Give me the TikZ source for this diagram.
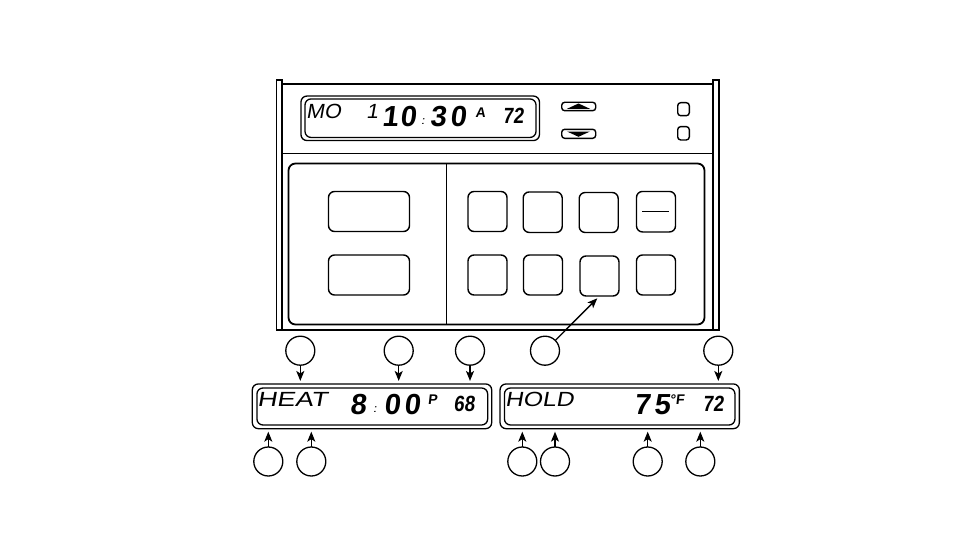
\documentclass[tikz,border=0pt]{standalone}
\usepackage{fontspec}
\usetikzlibrary{arrows.meta}
\newfontfamily\lcdthin[FakeSlant=0.18,FakeStretch=1.32]{Liberation Sans}
\newfontfamily\lcdhold[FakeSlant=0.18,FakeStretch=1.2]{Liberation Sans}
\newfontfamily\lcdmo[FakeSlant=0.18,FakeStretch=1.05]{Liberation Sans}
\newfontfamily\lcdbold[FakeSlant=0.12]{Liberation Sans Bold}
\newfontfamily\lcdnarrow[FakeSlant=0.12,FakeStretch=0.85]{Liberation Sans Bold}
\newcommand{\dg}[2]{\makebox[#1pt]{#2}}
\newcommand{\cln}{{\lcdthin\fontsize{11}{11}\selectfont\raisebox{2pt}{:}}}
\tikzset{
  box/.style={draw,rounded corners=6pt,inner sep=0pt,outer sep=0pt,line width=1.4pt},
  disp/.style={draw,rounded corners=6pt,inner sep=0pt,outer sep=0pt,line width=1.3pt},
  callout/.style={draw,circle,inner sep=0pt,outer sep=0pt,minimum size=29pt,line width=1.3pt},
  lead/.style={line width=1.3pt,-{Stealth[length=10pt,width=8pt,inset=2.5pt]}},
  thintext/.style={inner sep=0pt,anchor=west,font=\lcdthin\fontsize{20.5}{20.5}\selectfont},
  digits/.style={inner sep=0pt,font=\lcdbold\fontsize{29}{29}\selectfont},
  smalltext/.style={inner sep=0pt,font=\lcdbold\fontsize{14}{14}\selectfont},
  two/.style={inner sep=0pt,font=\lcdnarrow\fontsize{22}{22}\selectfont}
}
\begin{document}
\begin{tikzpicture}[x=1pt,y=-1pt]
\useasboundingbox (0,0) rectangle (954,551);
% housing
\draw[line width=1.3pt] (276.5,80) rectangle (282,330);
\draw[line width=1.3pt] (713,80) rectangle (719,330);
\draw[line width=2pt] (282,84) -- (713,84);
\draw[line width=2pt] (276.5,330) -- (719,330);
\draw[line width=0.9pt] (282,153.5) -- (713,153.5);
% keypad panel
\draw[line width=1.8pt,rounded corners=7pt] (288.5,163.5) rectangle (704.5,324.5);
\draw[line width=0.9pt] (446.3,163.5) -- (446.3,324.5);
% top display
\node[disp,minimum width=238.5pt,minimum height=44.5pt] (dispT) at (420.2,118.3) {};
\node[disp,minimum width=231pt,minimum height=38.5pt] (dispTi) at (420.5,118.2) {};
\node[thintext,font=\lcdmo\fontsize{20.5}{20.5}\selectfont] (tMO) at (306,111) {MO};
\node[inner sep=0pt,font=\lcdmo\fontsize{20.5}{20.5}\selectfont] (tOne) at (372,111.5) {1};
\node[digits] (tTime) at (425,117) {\dg{18}{1}\dg{18}{0}\dg{12}{\cln}\dg{18}{3}\dg{22}{0}};
\node[smalltext] (tA) at (480.5,112.5) {A};
\node[two] (tTemp) at (513,116) {72};
% arrows and small buttons
\node[box,rounded corners=3pt,minimum width=34pt,minimum height=8.4pt] (up) at (578.7,106.5) {};
\node[box,rounded corners=3pt,minimum width=34pt,minimum height=9pt] (down) at (578.7,133.8) {};
\fill (578.5,103.5) -- (590,108.8) -- (567,108.8) -- cycle;
\fill (578.5,136.8) -- (590,131.5) -- (567,131.5) -- cycle;
\node[box,rounded corners=3pt,minimum width=11.6pt,minimum height=13pt] (sqA) at (683.5,109.2) {};
\node[box,rounded corners=3pt,minimum width=11.6pt,minimum height=13.3pt] (sqB) at (683.5,133.3) {};
% large buttons
\node[box,minimum width=81pt,minimum height=40pt] (bigA) at (369,211.5) {};
\node[box,minimum width=81pt,minimum height=40pt] (bigB) at (369,275) {};
% small key buttons
\node[box,minimum width=39pt,minimum height=40pt] (k1) at (487.5,211.5) {};
\node[box,minimum width=39pt,minimum height=40.5pt] (k2) at (542.7,212.2) {};
\node[box,minimum width=39pt,minimum height=40pt] (k3) at (598.7,212.5) {};
\node[box,minimum width=39pt,minimum height=40.5pt] (k4) at (656,211.7) {};
\draw[line width=0.9pt] (642,211.5) -- (669,211.5);
\node[box,minimum width=39pt,minimum height=40pt] (k5) at (487.5,275) {};
\node[box,minimum width=39pt,minimum height=40pt] (k6) at (543,275) {};
\node[box,minimum width=39pt,minimum height=40pt] (k7) at (599.5,276) {};
\node[box,minimum width=39pt,minimum height=40pt] (k8) at (656,275) {};
\coordinate (k7tip) at (597.3,298.3);
% left display
\node[disp,minimum width=239.4pt,minimum height=44.7pt] (dispL) at (372,406.3) {};
\node[disp,minimum width=230.7pt,minimum height=37pt] (dispLi) at (372.3,406.5) {};
\node[thintext] (tHeat) at (257,399) {HEAT};
\node[digits] (tSet) at (385,404.5) {\dg{20}{8}\dg{14}{\cln}\dg{20}{0}\dg{20}{0}};
\node[smalltext] (tP) at (432.5,399.5) {P};
\node[two] (t68) at (464,403.5) {68};
% right display
\node[disp,minimum width=239.3pt,minimum height=44.7pt] (dispR) at (619.7,406.3) {};
\node[disp,minimum width=230.5pt,minimum height=37pt] (dispRi) at (619.7,406.5) {};
\node[thintext,font=\lcdhold\fontsize{20.5}{20.5}\selectfont] (tHold) at (505,399.5) {HOLD};
\node[digits] (tHeld) at (652,404.5) {\dg{20}{7}\dg{20}{5}};
\node[smalltext] (tF) at (677,399.5) {°F};
\node[two] (t72) at (713,403.5) {72};
% callouts
\node[callout] (c1) at (300.3,350.7) {};
\node[callout] (c2) at (398.7,350.7) {};
\node[callout] (c3) at (470,350.7) {};
\node[callout] (c4) at (545,350.7) {};
\node[callout] (c5) at (718.3,350.7) {};
\node[callout] (b1) at (268.3,461.5) {};
\node[callout] (b2) at (311.3,461.5) {};
\node[callout] (b3) at (522.3,461.5) {};
\node[callout] (b4) at (555,461.5) {};
\node[callout] (b5) at (647.7,461.5) {};
\node[callout] (b6) at (700.3,461.5) {};
% leaders
\draw[lead,shorten >=3pt] (c1) -- (c1 |- dispL.north);
\draw[lead,shorten >=3pt] (c2) -- (c2 |- dispL.north);
\draw[lead,shorten >=3pt] (c3) -- (c3 |- dispL.north);
\draw[lead,shorten >=3pt] (c5) -- (c5 |- dispR.north);
\draw[lead] (c4) -- (k7tip);
\draw[lead,shorten >=3pt] (b1) -- (b1 |- dispL.south);
\draw[lead,shorten >=3pt] (b2) -- (b2 |- dispL.south);
\draw[lead,shorten >=3pt] (b3) -- (b3 |- dispR.south);
\draw[lead,shorten >=3pt] (b4) -- (b4 |- dispR.south);
\draw[lead,shorten >=3pt] (b5) -- (b5 |- dispR.south);
\draw[lead,shorten >=3pt] (b6) -- (b6 |- dispR.south);
\end{tikzpicture}
\end{document}
